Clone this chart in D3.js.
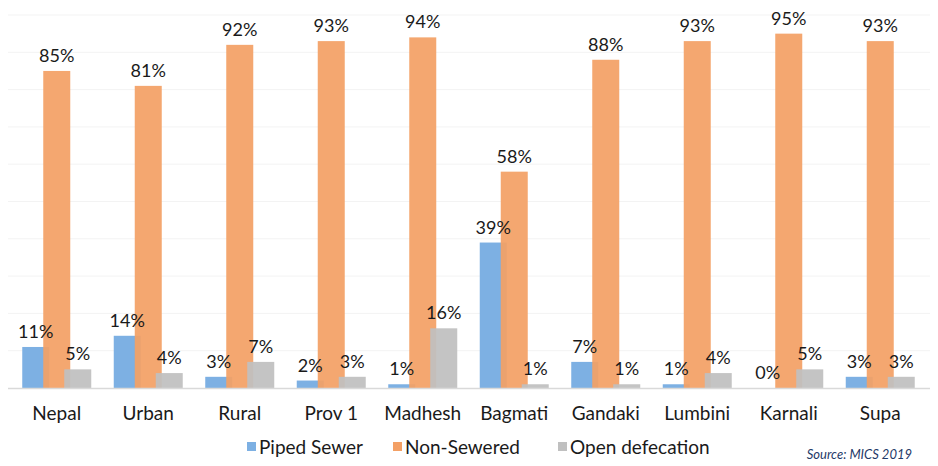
<!DOCTYPE html>
<html>
<head>
<meta charset="utf-8">
<script src="https://cdn.jsdelivr.net/npm/d3@7"></script>
<style>
  html, body { margin: 0; padding: 0; background: #fff; }
  svg { display: block; font-family: Lato, "Open Sans", sans-serif; }
</style>
</head>
<body>
<svg id="chart" width="938" height="466"></svg>
<script>
// Sanitation access by region (%)
const categories = ["Nepal", "Urban", "Rural", "Prov 1", "Madhesh", "Bagmati", "Gandaki", "Lumbini", "Karnali", "Supa"];
const seriesNames = ["Piped Sewer", "Non-Sewered", "Open defecation"];
const pipedSewer = [11, 14, 3, 2, 1, 39, 7, 1, 0, 3];
const nonSewered = [85, 81, 92, 93, 94, 58, 88, 93, 95, 93];
const openDefecation = [5, 4, 7, 3, 16, 1, 1, 4, 5, 3];
const yTicks = [0, 10, 20, 30, 40, 50, 60, 70, 80, 90, 100];
const sourceNote = "Source: MICS 2019";

const colors = ["#7db0e3", "#f3a065", "#c0c0c0"];
const seriesValues = [pipedSewer, nonSewered, openDefecation];

const svg = d3.select("#chart");
const plot = { left: 11, right: 926, top: 15, bottom: 388 };

const x = d3.scaleBand().domain(categories).range([plot.left, plot.right]).paddingInner(0).paddingOuter(0);
const y = d3.scaleLinear().domain([0, 100]).range([plot.bottom, plot.top]);

// series offsets inside each category (bars overlap slightly)
const barW = 27;
const offsets = [-21, 0, 21];

// gridlines
svg.append("g").selectAll("line").data(yTicks.filter(t => t > 0)).join("line")
  .attr("x1", 8).attr("x2", 930)
  .attr("y1", d => y(d)).attr("y2", d => y(d))
  .attr("stroke", "#f3f3f3").attr("stroke-width", 1);

// bars
seriesValues.forEach((vals, si) => {
  svg.append("g").selectAll("rect").data(vals).join("rect")
    .attr("x", (d, i) => x(categories[i]) + x.bandwidth() / 2 + offsets[si] - barW / 2)
    .attr("y", d => y(d))
    .attr("width", barW)
    .attr("height", d => y(0) - y(d))
    .attr("fill", colors[si])
    .attr("fill-opacity", si === 0 ? 1 : 0.93);
});

// value labels
seriesValues.forEach((vals, si) => {
  svg.append("g").selectAll("text").data(vals).join("text")
    .attr("x", (d, i) => x(categories[i]) + x.bandwidth() / 2 + offsets[si])
    .attr("y", d => y(d) - 9)
    .attr("text-anchor", "middle")
    .attr("font-size", 18)
    .attr("fill", "#1a1a1a")
    .text(d => d + "%");
});

// baseline
svg.append("line")
  .attr("x1", 8).attr("x2", 930)
  .attr("y1", y(0) + 0.5).attr("y2", y(0) + 0.5)
  .attr("stroke", "#d9d9d9").attr("stroke-width", 1.5);

// category axis
const xAxis = svg.append("g")
  .attr("transform", `translate(0,${y(0)})`)
  .call(d3.axisBottom(x).tickSize(0).tickPadding(19));
xAxis.select(".domain").remove();
xAxis.selectAll("text")
  .attr("font-size", 19)
  .attr("font-family", "Lato, 'Open Sans', sans-serif")
  .attr("fill", "#1a1a1a");

// legend
const legendItems = [
  { name: seriesNames[0], color: colors[0], x: 247 },
  { name: seriesNames[1], color: colors[1], x: 393 },
  { name: seriesNames[2], color: colors[2], x: 558 }
];
const lg = svg.append("g");
legendItems.forEach(it => {
  lg.append("rect").attr("x", it.x).attr("y", 442).attr("width", 9).attr("height", 9).attr("fill", it.color);
  lg.append("text").attr("x", it.x + 12).attr("y", 454)
    .attr("font-size", 19).attr("fill", "#1a1a1a").text(it.name);
});

// source note
svg.append("text")
  .attr("x", 912).attr("y", 459)
  .attr("text-anchor", "end")
  .attr("font-size", 13)
  .attr("font-style", "italic")
  .attr("fill", "#1f3a68")
  .text(sourceNote);
</script>
</body>
</html>
